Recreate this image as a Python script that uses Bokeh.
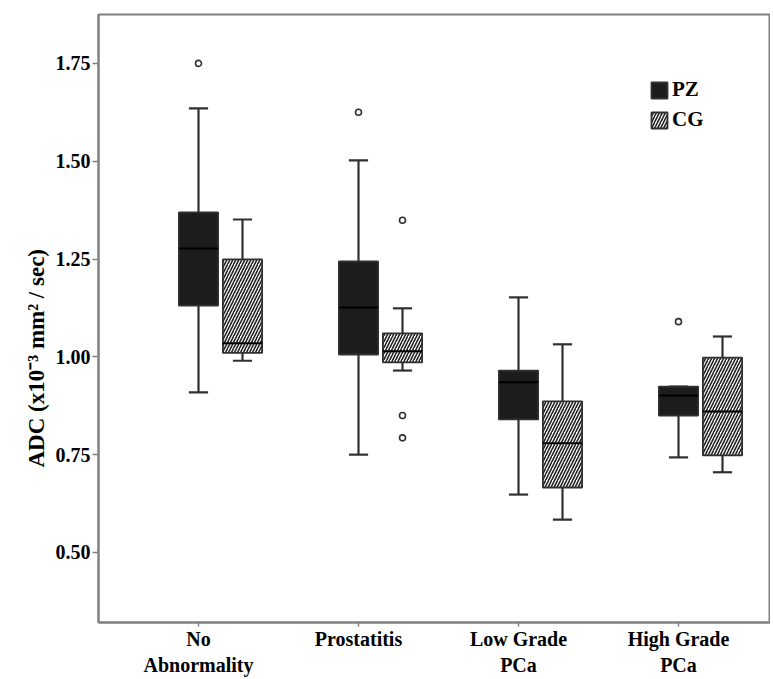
from bokeh.plotting import figure
from bokeh.models import ColumnDataSource, FixedTicker, Range1d, Legend, LegendItem, NumeralTickFormatter, Title
from bokeh.embed import file_html
from bokeh.resources import INLINE

categories = ["No\nAbnormality", "Prostatitis", "Low Grade\nPCa", "High Grade\nPCa"]

pz_lo = [0.909, 0.750, 0.648, 0.743]
pz_q1 = [1.131, 1.006, 0.840, 0.850]
pz_med = [1.277, 1.126, 0.935, 0.901]
pz_q3 = [1.369, 1.244, 0.965, 0.924]
pz_hi = [1.635, 1.502, 1.152, 0.924]
pz_out = [[1.750], [1.625], [], [1.090]]

cg_lo = [0.990, 0.965, 0.584, 0.705]
cg_q1 = [1.010, 0.986, 0.666, 0.748]
cg_med = [1.035, 1.014, 0.779, 0.860]
cg_q3 = [1.249, 1.060, 0.886, 0.998]
cg_hi = [1.351, 1.124, 1.032, 1.052]
cg_out = [[], [1.349, 0.850, 0.793], [], []]

y_ticks = [0.50, 0.75, 1.00, 1.25, 1.50, 1.75]
y_title = "ADC (x10⁻³ mm²  / sec)"

FONT = "Liberation Serif"
GRAY = "#808080"
DARK = "#303030"

p = figure(frame_width=672, frame_height=608, min_border_left=98, min_border_top=14,
           min_border_right=0, min_border_bottom=56,
           x_range=Range1d(-0.625, 3.575), y_range=Range1d(0.321, 1.875),
           output_backend="svg", toolbar_location=None)
p.xgrid.visible = False
p.ygrid.visible = False
p.outline_line_color = GRAY
p.outline_line_width = 2
p.background_fill_color = "white"
p.border_fill_color = "white"

off_pz = 0.0
off_cg = 0.275
bw = 0.245
cw = 0.12

def group(offset, lo, q1, med, q3, hi, outs, fill, hatch):
    xs = [i + offset for i in range(len(categories))]
    src = ColumnDataSource(dict(x=xs, lo=lo, q1=q1, med=med, q3=q3, hi=hi,
                                cl=[x - cw / 2 for x in xs], cr=[x + cw / 2 for x in xs],
                                bl=[x - bw / 2 for x in xs], br=[x + bw / 2 for x in xs]))
    p.segment(x0="x", y0="q3", x1="x", y1="hi", source=src, line_color=DARK, line_width=2.2)
    p.segment(x0="x", y0="lo", x1="x", y1="q1", source=src, line_color=DARK, line_width=2.2)
    p.segment(x0="cl", y0="hi", x1="cr", y1="hi", source=src, line_color=DARK, line_width=2.2)
    p.segment(x0="cl", y0="lo", x1="cr", y1="lo", source=src, line_color=DARK, line_width=2.2)
    if hatch:
        r = p.vbar(x="x", width=bw, bottom="q1", top="q3", source=src, fill_color="white",
                   hatch_pattern="right_diagonal_line", hatch_color="#222222", hatch_scale=6,
                   hatch_weight=1.6, line_color=DARK, line_width=1.8)
    else:
        r = p.vbar(x="x", width=bw, bottom="q1", top="q3", source=src, fill_color=fill,
                   line_color=DARK, line_width=1.8)
    p.segment(x0="bl", y0="med", x1="br", y1="med", source=src, line_color="black", line_width=2)
    ox, oy = [], []
    for i, vals in enumerate(outs):
        for v in vals:
            ox.append(i + offset)
            oy.append(v)
    p.scatter(ox, oy, size=6, marker="circle", fill_color="white", line_color=DARK, line_width=1.6)
    return r

r_pz = group(off_pz, pz_lo, pz_q1, pz_med, pz_q3, pz_hi, pz_out, "#1c1c1c", False)
r_cg = group(off_cg, cg_lo, cg_q1, cg_med, cg_q3, cg_hi, cg_out, "white", True)

legend = Legend(items=[LegendItem(label="PZ", renderers=[r_pz]), LegendItem(label="CG", renderers=[r_cg])],
                location=(551, 490), padding=0, margin=0, spacing=5,
                glyph_width=20, glyph_height=20, label_height=20, label_standoff=3,
                border_line_color=None, background_fill_alpha=0,
                label_text_font=FONT, label_text_font_style="bold", label_text_font_size="21px",
                label_text_color="black")
p.add_layout(legend)

p.yaxis.ticker = FixedTicker(ticks=y_ticks)
p.yaxis.formatter = NumeralTickFormatter(format="0.00")
p.xaxis.ticker = FixedTicker(ticks=list(range(len(categories))))
p.xaxis.major_label_overrides = {i: c for i, c in enumerate(categories)}

for ax in (p.xaxis, p.yaxis):
    ax.axis_line_color = GRAY
    ax.axis_line_width = 2
    ax.major_tick_line_color = GRAY
    ax.major_tick_line_width = 1.5
    ax.major_tick_in = 0
    ax.minor_tick_line_color = None
    ax.major_label_text_font = FONT
    ax.major_label_text_font_style = "bold"
    ax.major_label_text_color = "black"

p.yaxis.major_label_text_font_size = "20px"
p.xaxis.major_label_text_font_size = "20px"
p.yaxis.major_tick_out = 6
p.xaxis.major_tick_out = 4
p.yaxis.major_label_standoff = 2
p.xaxis.major_label_standoff = 1

p.add_layout(Title(text=y_title, align="left", offset=155, standoff=8,
                   text_font=FONT, text_font_style="bold", text_font_size="23px",
                   text_color="black"), "left")

open("out.html", "w").write(file_html(p, INLINE))
